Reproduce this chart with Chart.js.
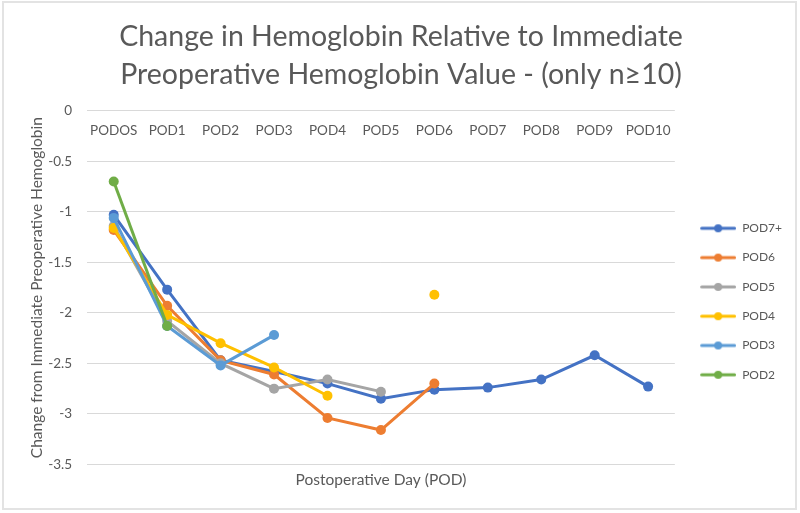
<!DOCTYPE html>
<html>
<head>
<meta charset="utf-8">
<script src="https://cdn.jsdelivr.net/npm/chart.js@4"></script>
<style>
  html, body { margin: 0; padding: 0; background: #fff; }
  #wrap { position: relative; width: 800px; height: 513px; }
  #frame { position: absolute; left: 2px; top: 1px; width: 795px; height: 509px; border: 2px solid #e3e3e3; pointer-events: none; box-sizing: border-box; }
  canvas { display: block; }
</style>
</head>
<body>
<div id="wrap">
  <canvas id="c" width="800" height="513"></canvas>
  <div id="frame"></div>
</div>
<script>
const categories = ['PODOS', 'POD1', 'POD2', 'POD3', 'POD4', 'POD5', 'POD6', 'POD7', 'POD8', 'POD9', 'POD10'];
const seriesNames = ['POD7+', 'POD6', 'POD5', 'POD4', 'POD3', 'POD2'];
const pod7plus = [-1.03, -1.77, -2.47, -2.58, -2.70, -2.85, -2.76, -2.74, -2.66, -2.42, -2.73];
const pod6 = [-1.18, -1.93, -2.47, -2.61, -3.04, -3.16, -2.70, null, null, null, null];
const pod5 = [-1.14, -2.08, -2.50, -2.75, -2.66, -2.78, null, null, null, null, null];
const pod4 = [-1.16, -2.02, -2.30, -2.54, -2.82, null, -1.82, null, null, null, null];
const pod3 = [-1.06, -2.13, -2.52, -2.22, null, null, null, null, null, null, null];
const pod2 = [-0.70, -2.13, null, null, null, null, null, null, null, null, null];
const yTicks = { min: -3.5, max: 0, step: 0.5 };
const titleLines = ['Change in Hemoglobin Relative to Immediate', 'Preoperative Hemoglobin Value - (only n\u226510)'];
const xTitle = 'Postoperative Day (POD)';
const yTitle = 'Change from Immediate Preoperative Hemoglobin';

const colors = ['#4472C4', '#ED7D31', '#A5A5A5', '#FFC000', '#5B9BD5', '#70AD47'];
const allSeries = [pod7plus, pod6, pod5, pod4, pod3, pod2];
const textColor = '#595959';
const FONT = 'Lato, "Open Sans", sans-serif';

function legendIcon(color) {
  const cv = document.createElement('canvas');
  cv.width = 44; cv.height = 10;
  const g = cv.getContext('2d');
  g.strokeStyle = color; g.lineWidth = 3; g.lineCap = 'round';
  g.beginPath(); g.moveTo(9.5, 5); g.lineTo(42.5, 5); g.stroke();
  g.fillStyle = color; g.beginPath(); g.arc(26, 5, 4, 0, Math.PI * 2); g.fill();
  return cv;
}

const datasets = allSeries.map((d, i) => ({
  label: seriesNames[i],
  data: d,
  borderColor: colors[i],
  backgroundColor: colors[i],
  borderWidth: 3,
  pointRadius: 5,
  pointHoverRadius: 5,
  pointBorderWidth: 0,
  spanGaps: false,
  tension: 0,
  order: allSeries.length - i
}));

new Chart(document.getElementById('c'), {
  type: 'line',
  data: { labels: categories, datasets },
  options: {
    responsive: false,
    animation: false,
    layout: { padding: { left: 10, right: 8, top: 4, bottom: 12 } },
    plugins: {
      title: {
        display: true,
        text: titleLines,
        color: textColor,
        font: { family: FONT, size: 28.5, weight: 'normal', lineHeight: 1.33 },
        padding: { top: 14, bottom: 17 }
      },
      legend: {
        position: 'right',
        align: 'start',
        title: { display: true, text: '', font: { size: 2, lineHeight: 1 }, padding: { top: 100, bottom: 99 } },
        labels: {
          usePointStyle: true,
          pointStyleWidth: 44,
          padding: 17.3,
          color: textColor,
          font: { family: FONT, size: 12 },
          generateLabels: (chart) => chart.data.datasets.map((ds, i) => ({
            text: ds.label,
            fillStyle: ds.borderColor,
            strokeStyle: ds.borderColor,
            lineWidth: 0,
            pointStyle: legendIcon(ds.borderColor),
            datasetIndex: i,
            hidden: false,
            fontColor: textColor
          }))
        }
      },
      tooltip: { enabled: false }
    },
    scales: {
      x: {
        type: 'category',
        axis: 'x',
        offset: true,
        position: { y: 0 },
        grid: { display: false, drawTicks: false },
        border: { display: false },
        ticks: { color: textColor, font: { family: FONT, size: 13.5 }, padding: 12, maxRotation: 0 }
      },
      x2: {
        type: 'category',
        axis: 'x',
        offset: true,
        position: 'bottom',
        grid: { display: false, drawTicks: false },
        border: { display: false },
        ticks: { display: false },
        title: { display: true, text: xTitle, color: textColor, font: { family: FONT, size: 15.5, lineHeight: 1.2 }, padding: { top: 6, bottom: 12 } }
      },
      y: {
        min: yTicks.min,
        max: yTicks.max,
        afterFit: (scale) => { scale.width = 77; },
        grid: { color: '#d9d9d9', drawTicks: false },
        border: { display: false },
        ticks: { stepSize: yTicks.step, color: textColor, font: { family: FONT, size: 13.5 }, padding: 15, callback: (v) => String(v) },
        title: { display: true, text: yTitle, color: textColor, font: { family: FONT, size: 15.5, lineHeight: 1.2 }, padding: { top: 18, bottom: 0 } }
      }
    }
  }
});
</script>
</body>
</html>
